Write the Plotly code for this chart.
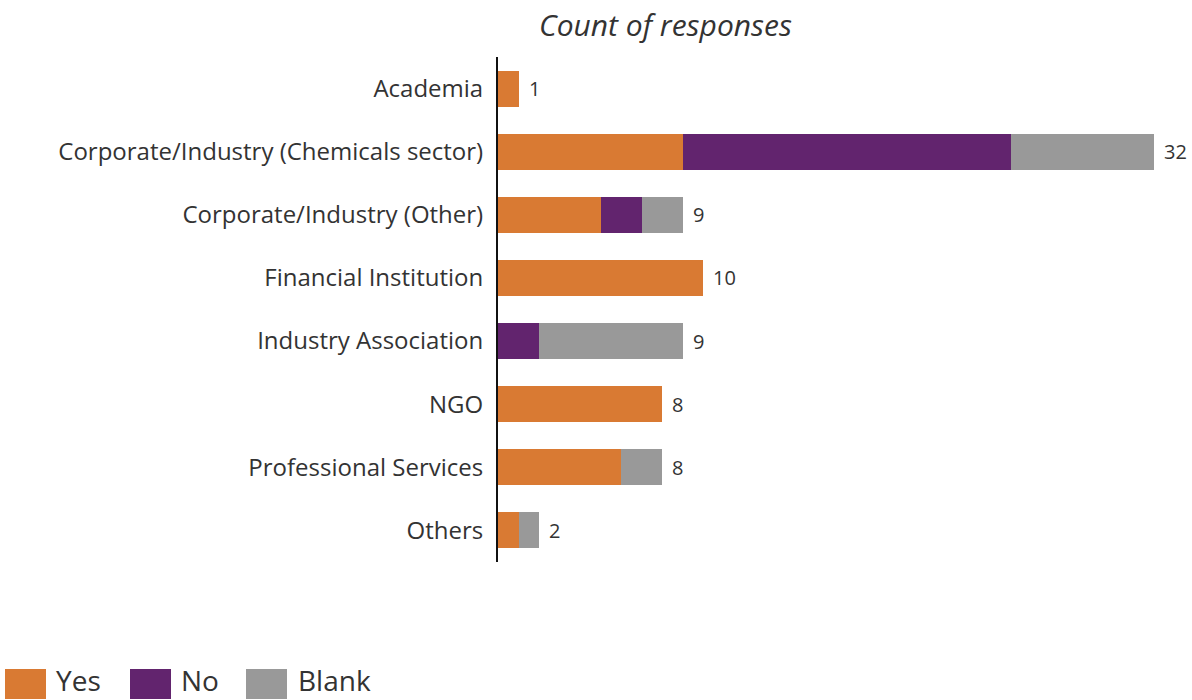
import plotly.graph_objects as go

categories = ["Academia", "Corporate/Industry (Chemicals sector)", "Corporate/Industry (Other)",
              "Financial Institution", "Industry Association", "NGO",
              "Professional Services", "Others"]
yes_counts = [1, 9, 5, 10, 0, 8, 6, 1]
no_counts = [0, 16, 2, 0, 2, 0, 0, 0]
blank_counts = [0, 7, 2, 0, 7, 0, 2, 1]
totals = [y + n + b for y, n, b in zip(yes_counts, no_counts, blank_counts)]

series = [("Yes", yes_counts, "#D97A33"), ("No", no_counts, "#62246E"), ("Blank", blank_counts, "#999999")]

FONT = "Open Sans"
TXT = "#333333"
W, H = 1192, 700
ML, MR, MT, MB = 498, 38, 57, 138
PW = W - ML - MR
PH = H - MT - MB

fig = go.Figure()
for name, vals, color in series:
    fig.add_trace(go.Bar(y=categories, x=vals, name=name, orientation="h",
                         marker=dict(color=color, line=dict(width=0)), showlegend=False))

# helper: pixel -> paper coordinates
def px_x(p):
    return (p - ML) / PW

def px_y(p):
    return (H - MB - p) / PH

shapes = []
annotations = [dict(text="<i>Count of responses</i>", x=px_x(665), y=px_y(25), xref="paper", yref="paper",
                    showarrow=False, font=dict(family=FONT, size=30, color=TXT),
                    xanchor="center", yanchor="middle")]

# total labels at the end of each stacked bar
for cat, tot in zip(categories, totals):
    annotations.append(dict(text=str(tot), x=tot, y=cat, xref="x", yref="y", showarrow=False,
                            xanchor="left", yanchor="middle", xshift=8,
                            font=dict(family=FONT, size=20, color=TXT)))

# legend drawn as swatches + labels along the bottom edge
legend_pos = [(5, 55), (130, 180), (246, 297)]
for (name, _, color), (sx, tx) in zip(series, legend_pos):
    shapes.append(dict(type="rect", xref="paper", yref="paper",
                       x0=px_x(sx), x1=px_x(sx + 41), y0=px_y(669), y1=px_y(699),
                       fillcolor=color, line=dict(width=0)))
    annotations.append(dict(text=name, x=px_x(tx), y=px_y(700), xref="paper", yref="paper",
                            showarrow=False, xanchor="left", yanchor="bottom", borderpad=0,
                            font=dict(family=FONT, size=28, color=TXT)))

fig.update_layout(
    width=W, height=H, barmode="stack", bargap=0.43,
    margin=dict(l=ML, r=MR, t=MT, b=MB),
    plot_bgcolor="white", paper_bgcolor="white",
    font=dict(family=FONT, color=TXT),
    xaxis=dict(range=[0, 32], visible=False, showgrid=False, zeroline=False),
    yaxis=dict(autorange="reversed", showgrid=False, ticks="", ticklabelstandoff=8,
               tickfont=dict(family=FONT, size=24, color=TXT),
               showline=True, linecolor="#111111", linewidth=2),
    shapes=shapes, annotations=annotations,
)

fig.write_html("out.html")
